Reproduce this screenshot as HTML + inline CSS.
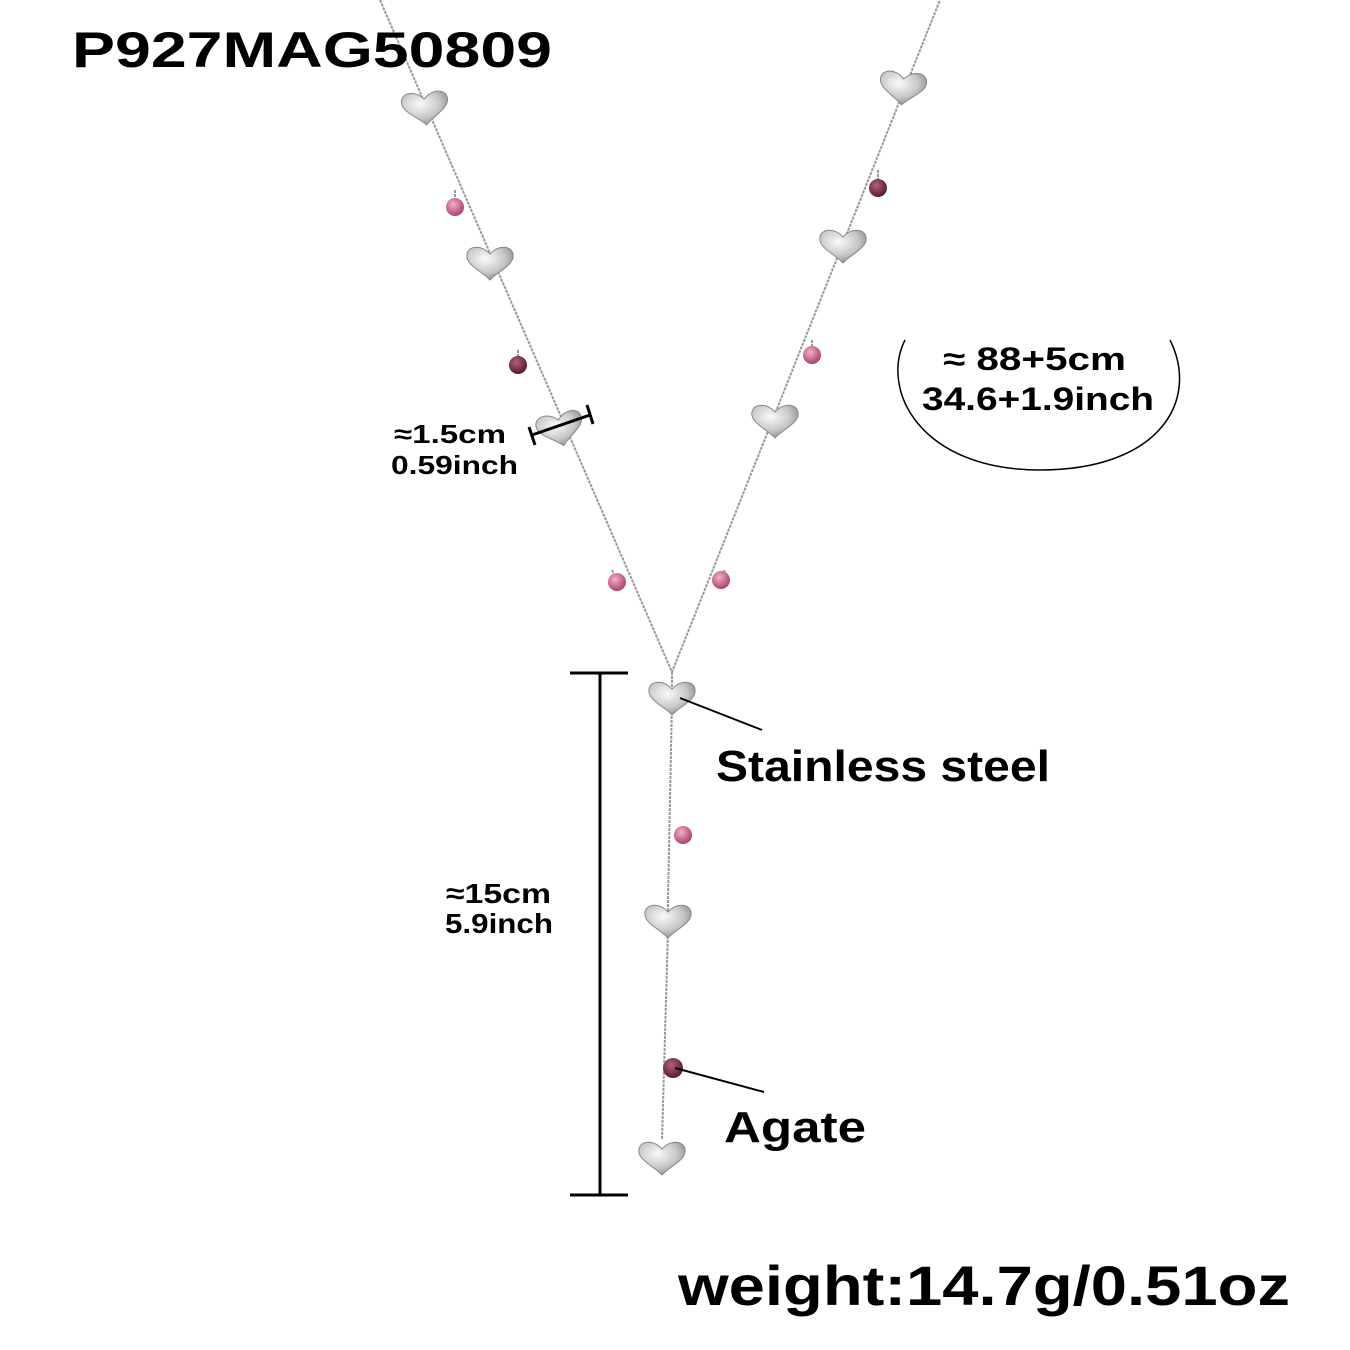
<!DOCTYPE html>
<html><head><style>
body{margin:0;background:#fff;}
svg{display:block}
text{font-family:"Liberation Sans",sans-serif;fill:#000;font-weight:bold}
</style></head><body>
<svg width="1350" height="1350" viewBox="0 0 1350 1350">
<defs>
<radialGradient id="hg" cx="40%" cy="35%" r="70%">
<stop offset="0" stop-color="#fafafa"/><stop offset="0.6" stop-color="#c8c8c8"/><stop offset="1" stop-color="#8a8a8a"/>
</radialGradient>
<radialGradient id="bg1" cx="40%" cy="35%" r="65%">
<stop offset="0" stop-color="#f0b0c8"/><stop offset="1" stop-color="#b04070"/>
</radialGradient>
<radialGradient id="bg2" cx="40%" cy="35%" r="65%">
<stop offset="0" stop-color="#b06080"/><stop offset="1" stop-color="#5a1a30"/>
</radialGradient>
<g id="h"><path d="M0,18 C-8,9 -25,3 -23,-8 C-21,-17 -8,-17 0,-8 C8,-17 21,-17 23,-8 C25,3 8,9 0,18 Z" fill="url(#hg)" stroke="#888" stroke-width="1"/></g>
</defs>
<g stroke="#9a9a9a" stroke-width="2" fill="none" stroke-dasharray="3 1">
<polyline points="380,0 672,672 940,0"/>
<polyline points="672,672 672,700 668,900 668,930 662,1140"/>
<line x1="455" y1="190" x2="455" y2="207"/><line x1="518" y1="350" x2="518" y2="365"/>
<line x1="612" y1="570" x2="617" y2="582"/><line x1="878" y1="170" x2="878" y2="188"/>
<line x1="812" y1="340" x2="812" y2="355"/><line x1="725" y1="570" x2="721" y2="580"/>
</g>
<use href="#h" transform="translate(425,107) rotate(-5)"/>
<use href="#h" transform="translate(490,262)"/>
<use href="#h" transform="translate(560,428) rotate(-12)"/>
<use href="#h" transform="translate(903,87) rotate(5)"/>
<use href="#h" transform="translate(843,245)"/>
<use href="#h" transform="translate(775,420)"/>
<use href="#h" transform="translate(672,697)"/>
<use href="#h" transform="translate(668,920)"/>
<use href="#h" transform="translate(662,1157)"/>
<g>
<circle cx="455" cy="207" r="9" fill="url(#bg1)"/><circle cx="518" cy="365" r="9" fill="url(#bg2)"/>
<circle cx="617" cy="582" r="9" fill="url(#bg1)"/><circle cx="878" cy="188" r="9" fill="url(#bg2)"/>
<circle cx="812" cy="355" r="9" fill="url(#bg1)"/><circle cx="721" cy="580" r="9" fill="url(#bg1)"/>
<circle cx="683" cy="835" r="9" fill="url(#bg1)"/><circle cx="673" cy="1068" r="10" fill="url(#bg2)"/>
</g>
<g stroke="#000" stroke-width="3">
<line x1="532" y1="435" x2="590" y2="415"/><line x1="529" y1="427" x2="535" y2="445"/><line x1="587" y1="405" x2="593" y2="424"/>
<line x1="600" y1="673" x2="600" y2="1195"/><line x1="570" y1="673" x2="628" y2="673"/><line x1="570" y1="1195" x2="628" y2="1195"/>
</g>
<g stroke="#000" stroke-width="2">
<line x1="680" y1="698" x2="762" y2="730"/><line x1="675" y1="1068" x2="764" y2="1092"/>
</g>
<path d="M905,340 C880,390 920,470 1040,470 C1160,470 1200,400 1170,340" fill="none" stroke="#000" stroke-width="1.5"/>
<text x="72" y="67" font-size="50" textLength="480" lengthAdjust="spacingAndGlyphs">P927MAG50809</text>
<text x="943" y="370" font-size="32" textLength="183" lengthAdjust="spacingAndGlyphs">≈ 88+5cm</text>
<text x="922" y="410" font-size="32" textLength="232" lengthAdjust="spacingAndGlyphs">34.6+1.9inch</text>
<text x="394" y="443" font-size="26" textLength="112" lengthAdjust="spacingAndGlyphs">≈1.5cm</text>
<text x="391" y="474" font-size="26" textLength="127" lengthAdjust="spacingAndGlyphs">0.59inch</text>
<text x="446" y="903" font-size="28" textLength="105" lengthAdjust="spacingAndGlyphs">≈15cm</text>
<text x="445" y="933" font-size="28" textLength="108" lengthAdjust="spacingAndGlyphs">5.9inch</text>
<text x="716" y="781" font-size="44" textLength="334" lengthAdjust="spacingAndGlyphs">Stainless steel</text>
<text x="724" y="1142" font-size="44" textLength="142" lengthAdjust="spacingAndGlyphs">Agate</text>
<text x="678" y="1305" font-size="56" textLength="612" lengthAdjust="spacingAndGlyphs">weight:14.7g/0.51oz</text>
</svg>
</body></html>
